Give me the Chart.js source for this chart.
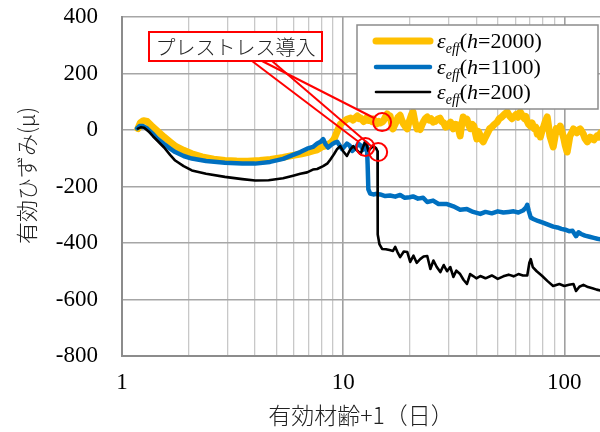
<!DOCTYPE html>
<html>
<head>
<meta charset="utf-8">
<script src="https://cdn.jsdelivr.net/npm/chart.js@4.4.1/dist/chart.umd.min.js"></script>
<style>
  html, body { margin: 0; padding: 0; background: #fff; }
  canvas { display: block; }
</style>
</head>
<body>
<canvas id="chart" width="600" height="432"></canvas>
<script>
// Effective age + 1 (days) and effective strain (μ) for three member depths
const days2000 = [1.18, 1.21, 1.25, 1.3, 1.36, 1.45, 1.55, 1.65, 1.75, 1.9, 2.07, 2.3, 2.6, 2.92, 3.3, 3.7, 4.2, 4.7, 5.35, 5.94, 6.5, 6.87, 7.3, 7.63, 8.0, 8.4, 8.8, 9.1, 9.4, 9.7, 10.0, 10.4, 10.8, 11.1, 11.4, 11.6, 11.8, 12.0, 12.2, 12.4, 12.6, 12.8, 13.0, 13.2, 13.5, 13.7, 14.0, 14.2, 14.5, 14.7, 15.0, 15.2, 15.5, 15.8, 16.0, 16.3, 16.6, 16.8, 17.1, 17.4, 17.7, 18.1, 18.4, 18.8, 19.1, 19.5, 19.8, 20.1, 20.4, 20.7, 21.1, 21.6, 22.0, 22.3, 22.7, 23.1, 23.5, 24.0, 24.5, 25.0, 25.5, 26.0, 26.7, 27.4, 27.9, 28.5, 29.1, 29.8, 30.6, 31.5, 32.2, 32.8, 33.3, 33.8, 34.3, 34.9, 35.5, 36.3, 36.9, 37.6, 38.3, 39.0, 39.6, 40.2, 40.9, 41.7, 42.3, 43.0, 44.0, 45.0, 46.0, 47.0, 48.3, 49.7, 50.8, 52.0, 53.5, 55.2, 56.5, 58.0, 59.2, 60.5, 61.8, 63.2, 64.5, 66.0, 67.0, 68.0, 69.0, 70.2, 71.5, 73.0, 74.3, 75.5, 76.7, 77.9, 79.2, 80.5, 82.0, 83.7, 85.0, 86.0, 87.5, 89.1, 90.5, 92.0, 94.0, 95.9, 97.5, 99.5, 101, 103, 104.5, 106, 108, 110, 112, 114, 116, 118, 120, 122, 124, 127, 129, 131, 133, 136, 138, 141, 143, 146];
const strain2000 = [5, 25, 33, 30, 15, -5, -25, -42, -58, -72, -84, -95, -103, -108, -110, -111, -108, -104, -97, -90, -84, -80, -74, -70, -60, -55, -45, -32, -5, 20, 28, 38, 42, 35, 44, 50, 40, 42, 36, 30, 38, 44, 34, 38, 30, 39, 28, 22, 30, 25, 28, 32, 45, 57, 45, 50, 20, 4, 18, 30, 45, 52, 35, 20, 12, 4, 25, 40, 55, 64, 30, 4, 8, 2, 18, 30, 40, 46, 35, 40, 28, 30, 38, 42, 30, 25, 10, 15, 28, 4, 20, 18, 0, -21, 15, 46, 30, 38, 18, 5, 20, 14, -10, -32, -5, -20, -35, -42, -25, -10, 5, 10, 20, 28, 40, 45, 55, 64, 50, 40, 48, 55, 45, 64, 52, 40, 48, 30, 20, 14, 25, 5, 10, -15, 0, -25, -5, 10, 30, 46, 10, -20, -40, -60, -30, 5, -5, 14, -5, -30, -55, -78, -50, -21, -10, 4, -5, -10, 0, 4, -5, -15, -30, -42, -35, -25, -30, -35, -28, -20, -25, -10];

const days1100 = [1.17, 1.2, 1.24, 1.3, 1.37, 1.45, 1.55, 1.65, 1.74, 1.9, 2.07, 2.4, 2.92, 3.5, 4.0, 4.67, 5.35, 5.94, 6.4, 6.87, 7.3, 7.63, 7.9, 8.12, 8.35, 8.55, 8.92, 9.15, 9.4, 9.65, 9.89, 10.15, 10.4, 10.7, 11.0, 11.35, 11.7, 12.0, 12.3, 12.6, 12.8, 12.9, 13.0, 13.25, 13.7, 14.2, 14.7, 15.5, 16.3, 17.2, 18.1, 19.0, 20.0, 20.7, 21.8, 23.0, 24.0, 25.5, 27.0, 29.5, 31.5, 33.8, 36.3, 38.7, 41.7, 44.0, 47.0, 50.0, 53.0, 56.0, 59.0, 62.0, 65.0, 67.0, 68.0, 69.0, 70.5, 72.4, 76.0, 80.0, 85.0, 89.1, 93.0, 97.0, 101, 105, 109, 113, 116, 119, 124, 130, 136, 141, 146];
const strain1100 = [6, 14, 14, 5, -12, -32, -50, -66, -78, -92, -101, -110, -116, -119, -119, -113, -102, -88, -78, -66, -60, -48, -42, -32, -52, -62, -50, -45, -42, -55, -68, -58, -48, -55, -74, -65, -48, -55, -70, -45, -50, -120, -210, -225, -228, -226, -228, -234, -232, -236, -230, -240, -238, -235, -243, -240, -255, -250, -262, -262, -270, -282, -280, -290, -297, -290, -295, -288, -292, -290, -288, -292, -285, -275, -265, -285, -310, -315, -322, -328, -336, -342, -345, -350, -353, -358, -357, -376, -362, -368, -374, -378, -382, -385, -387];

const days200 = [1.18, 1.22, 1.26, 1.32, 1.38, 1.45, 1.55, 1.65, 1.74, 1.9, 2.07, 2.4, 2.92, 3.5, 4.0, 4.6, 5.35, 5.94, 6.4, 6.87, 7.3, 7.63, 8.12, 8.5, 8.74, 9.1, 9.4, 9.7, 10.0, 10.4, 10.75, 11.1, 11.5, 12.0, 12.3, 12.6, 12.8, 13.0, 13.3, 13.7, 14.1, 14.3, 14.33, 14.6, 15.0, 15.6, 16.2, 16.8, 17.2, 17.6, 18.1, 18.8, 19.5, 20.1, 20.8, 21.5, 22.3, 23.1, 24.0, 24.8, 25.6, 26.5, 27.5, 28.5, 29.5, 30.5, 31.5, 32.5, 33.8, 35.0, 36.3, 37.5, 38.7, 40.0, 41.7, 44.0, 47.0, 50.0, 53.0, 56.0, 59.0, 62.0, 65.0, 68.0, 69.5, 70.5, 72.0, 75.0, 79.0, 84.0, 89.0, 95.0, 100, 105, 110, 113, 117, 122, 128, 134, 140, 146];
const strain200 = [5, 10, 8, -5, -22, -39, -62, -88, -108, -128, -143, -155, -166, -174, -179, -178, -171, -162, -155, -150, -140, -138, -128, -118, -105, -85, -67, -57, -75, -92, -70, -57, -70, -85, -60, -42, -55, -74, -65, -57, -65, -75, -370, -405, -421, -422, -425, -428, -414, -432, -450, -430, -432, -467, -445, -470, -457, -448, -446, -492, -462, -485, -503, -478, -500, -485, -520, -498, -510, -530, -545, -510, -517, -525, -517, -525, -515, -527, -518, -512, -518, -510, -515, -515, -470, -457, -485, -500, -515, -535, -552, -545, -552, -548, -545, -570, -555, -548, -556, -560, -565, -568];

// Axis ticks
const xGridValues = [1, 2, 3, 4, 5, 6, 7, 8, 9, 10, 20, 30, 40, 50, 60, 70, 80, 90, 100];
const xTickLabels = ['1', '10', '100'];
const yTicks = [-800, -600, -400, -200, 0, 200, 400];

// Prestress introduction markers (one per series)
const markerDays = [15.0, 12.6, 14.4];
const markerStrain = [28, -60, -78];

const seriesNames = ['2000', '1100', '200'];
const seriesColors = ['#FFC000', '#0070C0', '#000000'];
const seriesWidths = [7, 4.5, 2.6];

const toPoints = (xs, ys) => xs.map((x, i) => ({ x: x, y: ys[i] }));

const serif = '"Liberation Serif", "Times New Roman", serif';
const jpFont = '"Noto Sans CJK JP", "Liberation Serif", sans-serif';

// Legend with rich-text labels (ε_eff(h=...))
const legendPlugin = {
  id: 'richLegend',
  afterDatasetsDraw(chart) {
    const ctx = chart.ctx;
    const ca = chart.chartArea;
    const x0 = ca.right - 243, y0 = ca.top + 8, w = 241, h = 84;
    ctx.save();
    ctx.fillStyle = '#ffffff';
    ctx.fillRect(x0, y0, w, h);
    ctx.strokeStyle = '#8c8c8c';
    ctx.lineWidth = 1.5;
    ctx.strokeRect(x0, y0, w, h);
    const rows = [16, 42, 67];
    seriesNames.forEach((name, i) => {
      const cy = y0 + rows[i];
      ctx.strokeStyle = seriesColors[i];
      ctx.lineWidth = seriesWidths[i];
      ctx.lineCap = 'round';
      ctx.beginPath();
      ctx.moveTo(x0 + 19, cy);
      ctx.lineTo(x0 + 73, cy);
      ctx.stroke();
      const parts = [
        { t: 'ε', f: 'italic 22px ' + serif, dy: 0 },
        { t: 'eff', f: 'italic 14px ' + serif, dy: 5 },
        { t: '(', f: '22px ' + serif, dy: 0 },
        { t: 'h', f: 'italic 22px ' + serif, dy: 0 },
        { t: '=' + name + ')', f: '22px ' + serif, dy: 0 }
      ];
      let tx = x0 + 80;
      ctx.fillStyle = '#000';
      ctx.textBaseline = 'alphabetic';
      ctx.textAlign = 'left';
      parts.forEach(p => {
        ctx.font = p.f;
        ctx.fillText(p.t, tx, cy + 7 + p.dy);
        tx += ctx.measureText(p.t).width;
      });
    });
    ctx.restore();
  }
};

// Callout box, leader lines and circles around the prestress points
const calloutPlugin = {
  id: 'callout',
  afterDatasetsDraw(chart) {
    const ctx = chart.ctx;
    const ca = chart.chartArea;
    const xs = chart.scales.x, ys = chart.scales.y;
    const bx = ca.left + 27, by = ca.top + 15, bw = 173, bh = 29;
    const r = 9;
    const anchors = [bx + 113, bx + 103, bx + 123];
    ctx.save();
    ctx.strokeStyle = '#FF0000';
    ctx.lineWidth = 2;
    markerDays.forEach((d, i) => {
      const cx = xs.getPixelForValue(d);
      const cy = ys.getPixelForValue(markerStrain[i]);
      const sx = anchors[i], sy = by + bh;
      const dx = cx - sx, dy = cy - sy;
      const len = Math.hypot(dx, dy);
      ctx.beginPath();
      ctx.moveTo(sx, sy);
      ctx.lineTo(cx - dx / len * r, cy - dy / len * r);
      ctx.stroke();
      ctx.beginPath();
      ctx.arc(cx, cy, r, 0, Math.PI * 2);
      ctx.stroke();
    });
    ctx.fillStyle = '#ffffff';
    ctx.fillRect(bx, by, bw, bh);
    ctx.strokeRect(bx, by, bw, bh);
    ctx.fillStyle = '#222';
    ctx.font = '300 20px ' + jpFont;
    ctx.textAlign = 'center';
    ctx.textBaseline = 'middle';
    ctx.fillText('プレストレス導入', bx + bw / 2, by + bh / 2 + 1);
    ctx.restore();
  }
};

// Vertical axis title, placed a little above the axis centre
const yTitlePlugin = {
  id: 'yTitle',
  afterDraw(chart) {
    const ctx = chart.ctx;
    const ca = chart.chartArea;
    ctx.save();
    ctx.translate(27, (ca.top + ca.bottom) / 2 - 11);
    ctx.rotate(-Math.PI / 2);
    ctx.fillStyle = '#222';
    ctx.font = '300 22px ' + jpFont;
    ctx.textAlign = 'center';
    ctx.textBaseline = 'middle';
    ctx.fillText('有効ひずみ(μ)', 0, 0);
    ctx.restore();
  }
};

const isDecade = v => Math.abs(Math.log10(v) - Math.round(Math.log10(v))) < 1e-9;

new Chart(document.getElementById('chart'), {
  type: 'line',
  data: {
    datasets: [
      { data: toPoints(days2000, strain2000), borderColor: seriesColors[0], borderWidth: seriesWidths[0], order: 3 },
      { data: toPoints(days1100, strain1100), borderColor: seriesColors[1], borderWidth: seriesWidths[1], order: 2 },
      { data: toPoints(days200, strain200), borderColor: seriesColors[2], borderWidth: seriesWidths[2], order: 1 }
    ].map(d => Object.assign(d, {
      pointRadius: 0, tension: 0, fill: false,
      borderCapStyle: 'round', borderJoinStyle: 'round'
    }))
  },
  options: {
    responsive: false,
    animation: false,
    devicePixelRatio: 1,
    layout: { padding: { top: 17, right: 0, left: 0, bottom: 0 } },
    plugins: { legend: { display: false }, tooltip: { enabled: false } },
    scales: {
      x: {
        type: 'logarithmic',
        min: 1,
        max: 145,
        afterBuildTicks(scale) { scale.ticks = xGridValues.map(v => ({ value: v })); },
        afterFit(scale) { scale.height = 76; scale.paddingLeft = 0; scale.paddingRight = 0; },
        ticks: {
          autoSkip: false,
          maxRotation: 0,
          padding: 13,
          color: '#000',
          font: { family: serif, size: 23 },
          callback: v => (isDecade(v) ? xTickLabels[Math.round(Math.log10(v))] : '')
        },
        grid: {
          drawTicks: false,
          color: c => (c.tick && isDecade(c.tick.value) ? '#a0a0a0' : '#c8c8c8'),
          lineWidth: c => (c.tick && isDecade(c.tick.value) ? 1.6 : 1.3)
        },
        border: { color: '#8c8c8c', width: 2 },
        title: {
          display: true,
          text: '有効材齢+1（日）',
          color: '#222',
          font: { family: jpFont, size: 23, weight: 300 },
          padding: { top: 0, bottom: 3 }
        }
      },
      y: {
        min: -800,
        max: 400,
        afterBuildTicks(scale) { scale.ticks = yTicks.map(v => ({ value: v })); },
        afterFit(scale) { scale.width = 122; scale.paddingTop = 0; scale.paddingBottom = 0; },
        ticks: {
          padding: 24,
          color: '#000',
          font: { family: serif, size: 23 }
        },
        grid: { drawTicks: false, color: '#a6a6a6', lineWidth: 1.5 },
        border: { color: '#8c8c8c', width: 2 }
      }
    }
  },
  plugins: [legendPlugin, calloutPlugin, yTitlePlugin]
});
</script>
</body>
</html>
